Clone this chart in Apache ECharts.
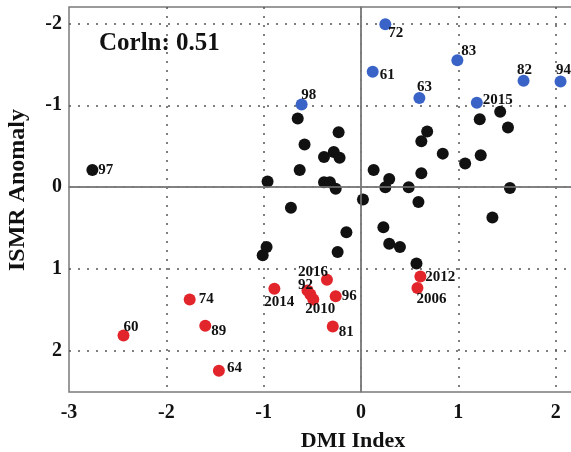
<!DOCTYPE html>
<html>
<head>
<meta charset="utf-8">
<script src="https://cdn.jsdelivr.net/npm/echarts@6/dist/echarts.min.js"></script>
<style>
  html, body { margin: 0; padding: 0; background: #fff; }
  #chart { width: 571px; height: 452px; }
</style>
</head>
<body>
<div id="chart"></div>
<script>
// black dots (unlabelled years)
var blackPts = [
  [-2.76, -0.21], [-0.96, -0.07], [-1.01, 0.83], [-0.97, 0.73],
  [-0.65, -0.84], [-0.23, -0.67], [-0.58, -0.52], [-0.38, -0.37],
  [-0.28, -0.43], [-0.22, -0.36], [-0.63, -0.21], [-0.38, -0.06],
  [-0.32, -0.06], [-0.26, 0.02], [-0.72, 0.25], [0.02, 0.15],
  [0.13, -0.21], [0.29, -0.10], [0.25, 0.0], [0.49, 0.0],
  [0.59, 0.18], [0.62, -0.17], [0.62, -0.56], [0.68, -0.68],
  [0.84, -0.41], [1.07, -0.29], [1.23, -0.39], [1.22, -0.83],
  [1.43, -0.92], [1.51, -0.73], [1.53, 0.01], [1.35, 0.37],
  [0.23, 0.49], [-0.15, 0.55], [-0.24, 0.79], [0.29, 0.69],
  [0.40, 0.73], [0.57, 0.93]
];
var blackLabels = ['97'];   // only the first black dot carries a label

// blue dots (deficit years)
var bluePts = [
  [0.25, -1.99], [0.12, -1.41], [0.99, -1.55], [1.67, -1.30],
  [2.05, -1.29], [0.60, -1.09], [1.19, -1.03], [-0.61, -1.01]
];
var blueLabels = ['72', '61', '83', '82', '94', '63', '2015', '98'];

// red dots (excess years)
var redPts = [
  [-0.89, 1.24], [-1.76, 1.37], [-1.60, 1.69], [-2.44, 1.81],
  [-1.46, 2.24], [-0.35, 1.13], [-0.55, 1.26], [-0.52, 1.31],
  [-0.49, 1.37], [-0.26, 1.33], [-0.29, 1.70], [0.61, 1.09],
  [0.58, 1.23]
];
var redLabels = ['2014', '74', '89', '60', '64', '2016', '92', '', '2010', '96', '81', '2012', '2006'];

var xTicks = [-3, -2, -1, 0, 1, 2];
var yTicks = [-2, -1, 0, 1, 2];

// where each year label sits relative to its dot: [dx, dy, align]
var labelPlace = {
  '97': [6, 0, 'left'], '72': [3, 9, 'left'], '61': [7, 3, 'left'],
  '83': [4, -9, 'left'], '82': [1, -11, 'center'], '94': [3, -11, 'center'],
  '63': [5, -11, 'center'], '2015': [6, -3, 'left'], '98': [7, -9, 'center'],
  '2014': [5, 13, 'center'], '74': [9, 0, 'left'], '89': [6, 5, 'left'],
  '60': [0, -8, 'left'], '64': [8, -3, 'left'], '2016': [-14, -8, 'center'],
  '92': [-2, -5, 'center'], '2010': [7, 10, 'center'], '96': [6, 0, 'left'],
  '81': [6, 6, 'left'], '2012': [5, 1, 'left'], '2006': [14, 11, 'center']
};

var serif = 'Liberation Serif';

function withLabels(pts, labels) {
  return pts.map(function (p, i) {
    var name = labels[i];
    if (!name) return { value: p };
    var pl = labelPlace[name];
    return {
      value: p,
      label: {
        show: true,
        formatter: name,
        position: 'inside',
        align: pl[2],
        verticalAlign: 'middle',
        offset: [pl[0], pl[1]]
      }
    };
  });
}

var chart = echarts.init(document.getElementById('chart'));

var labelStyle = {
  fontFamily: serif,
  fontWeight: 'bold',
  fontSize: 15,
  color: '#111'
};

var option = {
  animation: false,
  // the plot runs past the right edge of the picture, as in the original crop
  grid: {
    left: 69, top: 7, right: -9, bottom: 60,
    outerBoundsMode: 'none',
    containLabel: false,
    show: true,
    borderColor: '#7a7a7a',
    borderWidth: 1.5
  },
  xAxis: {
    type: 'value',
    min: -3, max: 2.25,
    splitNumber: 5,
    axisLine: { show: true, lineStyle: { color: '#7a7a7a', width: 1.5 } },
    axisTick: { show: false },
    axisLabel: {
      showMaxLabel: false,
      margin: 11,
      fontFamily: serif, fontWeight: 'bold', fontSize: 20, color: '#111',
      formatter: function (v) { return xTicks.indexOf(v) >= 0 ? String(v) : ''; }
    },
    splitLine: {
      show: true, showMinLine: false, showMaxLine: false,
      lineStyle: { color: '#555', width: 1.5, type: [2, 7] }
    }
  },
  yAxis: {
    type: 'value',
    inverse: true,
    min: -2.2, max: 2.5,
    splitNumber: 5,
    axisLine: { show: true, lineStyle: { color: '#7a7a7a', width: 1.5 } },
    axisTick: { show: false },
    axisLabel: {
      showMinLabel: false, showMaxLabel: false,
      margin: 7,
      fontFamily: serif, fontWeight: 'bold', fontSize: 20, color: '#111',
      formatter: function (v) { return yTicks.indexOf(v) >= 0 ? String(v) : ''; }
    },
    splitLine: {
      show: true, showMinLine: false, showMaxLine: false,
      lineStyle: { color: '#555', width: 1.5, type: [2, 7] }
    }
  },
  graphic: [
    { type: 'text', left: 99, top: 31,
      style: { text: 'Corln: 0.51', font: 'bold 25px "Liberation Serif"', fill: '#111' } },
    { type: 'text', x: 353, y: 441,
      style: { text: 'DMI Index', font: 'bold 22px "Liberation Serif"', fill: '#111',
               textAlign: 'center', textVerticalAlign: 'middle' } },
    { type: 'text', x: 18, y: 190, rotation: Math.PI / 2,
      style: { text: 'ISMR Anomaly', font: 'bold 24px "Liberation Serif"', fill: '#111',
               textAlign: 'center', textVerticalAlign: 'middle' } }
  ],
  series: [
    {
      type: 'scatter',
      symbolSize: 12,
      itemStyle: { color: '#111', opacity: 1 },
      label: labelStyle,
      data: withLabels(blackPts, blackLabels),
      markLine: {
        silent: true,
        symbol: 'none',
        label: { show: false },
        lineStyle: { color: '#7a7a7a', width: 1.5, type: 'solid' },
        data: [{ xAxis: 0 }, { yAxis: 0 }]
      }
    },
    {
      type: 'scatter',
      symbolSize: 12,
      itemStyle: { color: '#3a63c8', opacity: 1 },
      label: labelStyle,
      data: withLabels(bluePts, blueLabels)
    },
    {
      type: 'scatter',
      symbolSize: 12,
      itemStyle: { color: '#e2252b', opacity: 1 },
      label: labelStyle,
      data: withLabels(redPts, redLabels)
    }
  ]
};

chart.setOption(option);
</script>
</body>
</html>
